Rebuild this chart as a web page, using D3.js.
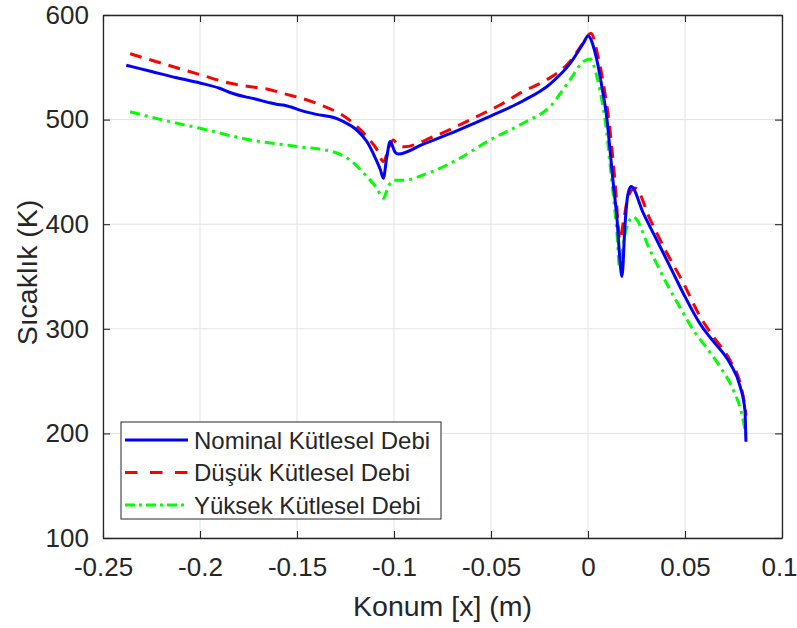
<!DOCTYPE html>
<html>
<head>
<meta charset="utf-8">
<script src="https://cdn.jsdelivr.net/npm/d3@7"></script>
<style>
  html, body { margin: 0; padding: 0; background: #fff; }
  svg { display: block; }
  text { font-family: "Liberation Sans", Arial, Helvetica, sans-serif; fill: #262626; }
</style>
</head>
<body>
<svg id="chart" width="797" height="628"></svg>
<script>
// Temperature profiles along the position axis for three mass-flow cases

const xNominal = [-0.238, -0.225, -0.212, -0.2, -0.19, -0.183, -0.176, -0.172, -0.165, -0.16, -0.157, -0.153, -0.1485, -0.14, -0.131, -0.126, -0.1192, -0.114, -0.1098, -0.107, -0.1055, -0.1038, -0.102, -0.0995, -0.0978, -0.0849, -0.0677, -0.05, -0.0334, -0.0196, -0.0093, -0.0024, 0.0, 0.0038, 0.0072, 0.0098, 0.0115, 0.0132, 0.015, 0.0162, 0.0175, 0.0191, 0.0205, 0.0222, 0.0285, 0.0354, 0.0423, 0.0491, 0.0577, 0.062, 0.0646, 0.0732, 0.0784, 0.0809, 0.0814];
const tNominal = [552, 546, 540, 535, 530, 525, 521.5, 520, 516.5, 514.5, 514, 512, 509, 505, 502, 498, 490, 479, 464, 452, 444, 463, 479, 469, 467, 476.6, 489.3, 503.6, 518, 534, 553.5, 573, 580, 563, 531, 500, 468, 436, 404, 372, 350, 400, 428, 436, 410.5, 385, 359.5, 334, 305, 294, 288, 267, 245, 222, 192];

const xLow = [-0.236, -0.22, -0.2, -0.185, -0.174, -0.165, -0.157, -0.14, -0.123, -0.114, -0.109, -0.1055, -0.1025, -0.1004, -0.098, -0.095, -0.0797, -0.0574, -0.0454, -0.0334, -0.0213, -0.0093, -0.003, 0.0015, 0.005, 0.0085, 0.011, 0.0127, 0.0143, 0.0155, 0.0163, 0.0185, 0.0205, 0.0242, 0.032, 0.0405, 0.0491, 0.0577, 0.0646, 0.0732, 0.0784, 0.0809, 0.0815];
const tLow = [563, 554, 543, 535, 531.5, 529, 525, 515.6, 499.6, 483.7, 472, 460, 474, 480.5, 476, 474, 483.7, 502.8, 514, 527, 538, 555.6, 572, 582.5, 562, 528, 496, 465, 432, 400, 385, 405, 425, 434.6, 404.6, 373, 344, 312, 292.5, 270, 248, 225.6, 217];

const xHigh = [-0.236, -0.22, -0.2, -0.174, -0.1485, -0.131, -0.1227, -0.114, -0.109, -0.1055, -0.103, -0.1, -0.095, -0.085, -0.0677, -0.0505, -0.0335, -0.0196, -0.0093, -0.0024, 0.0012, 0.004, 0.007, 0.0095, 0.0112, 0.013, 0.0148, 0.0163, 0.0185, 0.0205, 0.0233, 0.032, 0.0405, 0.0491, 0.0553, 0.0594, 0.068, 0.0749, 0.0792, 0.0814];
const tHigh = [507.5, 500, 491.7, 480.5, 474, 469, 461.4, 445.5, 435, 424.8, 436, 442, 442, 447, 461.4, 480.5, 496.5, 512.4, 538, 555.6, 558, 545, 520, 490, 460, 428, 395, 358, 385, 400, 407, 375, 343.5, 315, 296, 286, 264, 241.5, 219, 198.5];

const seriesNames = ["Nominal Kütlesel Debi", "Düşük Kütlesel Debi", "Yüksek Kütlesel Debi"];

const xTicks = [-0.25, -0.2, -0.15, -0.1, -0.05, 0, 0.05, 0.1];
const xTickLabels = ["-0.25", "-0.2", "-0.15", "-0.1", "-0.05", "0", "0.05", "0.1"];
const yTicks = [100, 200, 300, 400, 500, 600];
const yTickLabels = ["100", "200", "300", "400", "500", "600"];

const xTitle = "Konum [x] (m)";
const yTitle = "Sıcaklık (K)";

// ---- layout ----
const margin = { left: 103, top: 15, right: 15, bottom: 90 };
const W = 797, H = 628;
const innerW = W - margin.left - margin.right;   // 679
const innerH = H - margin.top - margin.bottom;   // 523
const axisColor = "#262626";
const gridColor = "#e3e3e3";
const tickFont = "26px";
const titleFont = "28.5px";

const svg = d3.select("#chart");
const g = svg.append("g").attr("transform", `translate(${margin.left},${margin.top})`);

const x = d3.scaleLinear().domain([-0.25, 0.1]).range([0, innerW]);
const y = d3.scaleLinear().domain([100, 600]).range([innerH, 0]);

// grid
g.append("g").attr("class", "grid-x")
  .selectAll("line").data(xTicks).join("line")
  .attr("x1", d => x(d)).attr("x2", d => x(d))
  .attr("y1", 0).attr("y2", innerH)
  .attr("stroke", gridColor).attr("stroke-width", 1);
g.append("g").attr("class", "grid-y")
  .selectAll("line").data(yTicks).join("line")
  .attr("y1", d => y(d)).attr("y2", d => y(d))
  .attr("x1", 0).attr("x2", innerW)
  .attr("stroke", gridColor).attr("stroke-width", 1);

// series
const line = d3.line().x(d => x(d[0])).y(d => y(d[1])).curve(d3.curveMonotoneX);
const zip = (xs, ts) => xs.map((v, i) => [v, ts[i]]);

const series = [
  { name: seriesNames[0], data: zip(xNominal, tNominal), color: "#0000ff", dash: null, legDash: null },
  { name: seriesNames[1], data: zip(xLow, tLow), color: "#ff0000", dash: "12,8", legDash: "12.5,12.5" },
  { name: seriesNames[2], data: zip(xHigh, tHigh), color: "#00ff00", dash: "10,5,3,5", legDash: "10,4,3,4" }
];

svg.append("defs").append("clipPath").attr("id", "plotclip")
  .append("rect").attr("width", innerW).attr("height", innerH);

const lines = g.append("g").attr("clip-path", "url(#plotclip)");
// nominal drawn last so it stays visible where curves overlap
[series[2], series[1], series[0]].forEach(s => {
  lines.append("path")
    .datum(s.data)
    .attr("d", line)
    .attr("fill", "none")
    .attr("stroke", s.color)
    .attr("stroke-width", 3)
    .attr("stroke-linejoin", "round")
    .attr("stroke-dasharray", s.dash);
});

// axes (box with inward ticks on all sides)
const tickLen = 7;
const fmtX = d => xTickLabels[xTicks.indexOf(d)];
const fmtY = d => yTickLabels[yTicks.indexOf(d)];

const axB = g.append("g").attr("transform", `translate(0,${innerH})`)
  .call(d3.axisBottom(x).tickValues(xTicks).tickFormat(fmtX).tickSizeInner(-tickLen).tickSizeOuter(0).tickPadding(20));
const axT = g.append("g")
  .call(d3.axisTop(x).tickValues(xTicks).tickFormat("").tickSizeInner(-tickLen).tickSizeOuter(0));
const axL = g.append("g")
  .call(d3.axisLeft(y).tickValues(yTicks).tickFormat(fmtY).tickSizeInner(-tickLen).tickSizeOuter(0).tickPadding(14));
const axR = g.append("g").attr("transform", `translate(${innerW},0)`)
  .call(d3.axisRight(y).tickValues(yTicks).tickFormat("").tickSizeInner(-tickLen).tickSizeOuter(0));

[axB, axT, axL, axR].forEach(a => {
  a.select(".domain").attr("stroke", axisColor).attr("stroke-width", 1.3);
  a.selectAll(".tick line").attr("stroke", axisColor).attr("stroke-width", 1.1);
  a.selectAll(".tick text")
    .attr("fill", axisColor)
    .style("font-family", '"Liberation Sans", Arial, sans-serif')
    .style("font-size", tickFont);
});
axB.selectAll(".tick text").attr("dy", "0.71em");
// keep the last x label inside the canvas
axB.selectAll(".tick text").filter(d => d === xTicks[xTicks.length - 1]).attr("x", -3);

// axis titles
svg.append("text")
  .attr("x", margin.left + innerW / 2)
  .attr("y", 616)
  .attr("text-anchor", "middle")
  .style("font-size", titleFont)
  .text(xTitle);

svg.append("text")
  .attr("transform", `translate(37,${margin.top + innerH / 2 - 4}) rotate(-90)`)
  .attr("text-anchor", "middle")
  .style("font-size", titleFont)
  .text(yTitle);

// legend
const leg = svg.append("g").attr("transform", "translate(121,422)");
leg.append("rect")
  .attr("width", 320).attr("height", 97)
  .attr("fill", "#fff")
  .attr("stroke", axisColor).attr("stroke-width", 1);
series.forEach((s, i) => {
  const cy = 18 + i * 32.5;
  leg.append("line")
    .attr("x1", 4).attr("x2", 67)
    .attr("y1", cy).attr("y2", cy)
    .attr("stroke", s.color).attr("stroke-width", 3)
    .attr("stroke-dasharray", s.legDash);
  leg.append("text")
    .attr("x", 73).attr("y", cy)
    .attr("dy", "0.36em")
    .style("font-size", "24px")
    .text(s.name);
});
</script>
</body>
</html>
